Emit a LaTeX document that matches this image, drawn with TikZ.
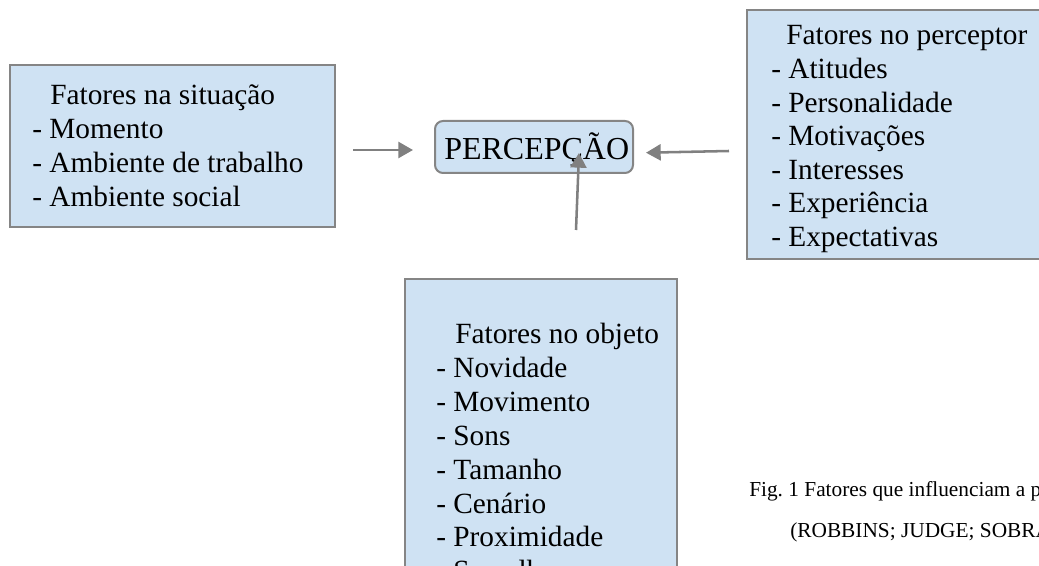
\documentclass[tikz,border=0pt]{standalone}
\usepackage{fontspec}
\setmainfont{Liberation Serif}
\usetikzlibrary{arrows.meta,fit}
\definecolor{boxfill}{HTML}{CFE2F3}
\definecolor{boxline}{HTML}{858585}
\definecolor{arrowgray}{HTML}{808080}
\frenchspacing
\begin{document}
\begin{tikzpicture}[x=0.75pt,y=-0.75pt,
  box/.style={draw=boxline, fill=boxfill, line width=1.5pt, inner sep=0pt},
  txt/.style={anchor=base west, inner sep=0pt, font=\fontsize{22}{26}\selectfont},
  captxt/.style={anchor=base west, inner sep=0pt, font=\fontsize{16}{19}\selectfont},
  arr/.style={draw=arrowgray, line width=1.9pt, -{Triangle[length=11pt,width=12pt]}}]
\useasboundingbox (0,0) rectangle (1039,566);
\clip (0,0) rectangle (1039,566);
% boxes
\node[box, fit={(10,65) (335,227)}] (sit) {};
\node[box, fit={(747,10) (1070,259)}] (perceptor) {};
\node[box, fit={(405,279) (677,620)}] (objeto) {};
\node[box, rounded corners=6pt, fit={(435,121) (633,173)}] (perc) {};
% texts
\node[txt] (ptext) at (444,159.3) {\fontsize{24}{28}\selectfont PERCEPÇÃO};
\node[txt] (st) at (50,105) {Fatores na situação};
\foreach \t [count=\i] in {Momento, Ambiente de trabalho, Ambiente social}
  \node[txt] (s\i) at (32,{105+33.9*\i}) {- \t};
\node[txt] (pt) at (786,45) {Fatores no perceptor};
\foreach \t [count=\i] in {Atitudes, Personalidade, Motivações, Interesses, Experiência, Expectativas}
  \node[txt] (p\i) at (771,{45+33.6*\i}) {- \t};
\node[txt] (ot) at (455,344) {Fatores no objeto};
\foreach \t [count=\i] in {Novidade, Movimento, Sons, Tamanho, Cenário, Proximidade, Semelhança}
  \node[txt] (o\i) at (436,{344+33.8*\i}) {- \t};
\node[captxt] (cap1) at (749,497) {Fig. 1 Fatores que influenciam a percepção};
\node[captxt] (cap2) at (790,537) {(ROBBINS; JUDGE; SOBRAL, 2010)};
% arrows
\coordinate (a1s) at (353,150);
\coordinate (a1e) at (413,150);
\coordinate (a2s) at (729,151);
\coordinate (a2e) at (646,152.7);
\coordinate (a3s) at (576,230);
\coordinate (a3e) at (579,153);
\draw[arr] (a1s) -- (a1e);
\draw[arr] (a2s) -- (a2e);
\draw[arr] (a3s) -- (a3e);
\end{tikzpicture}
\end{document}
